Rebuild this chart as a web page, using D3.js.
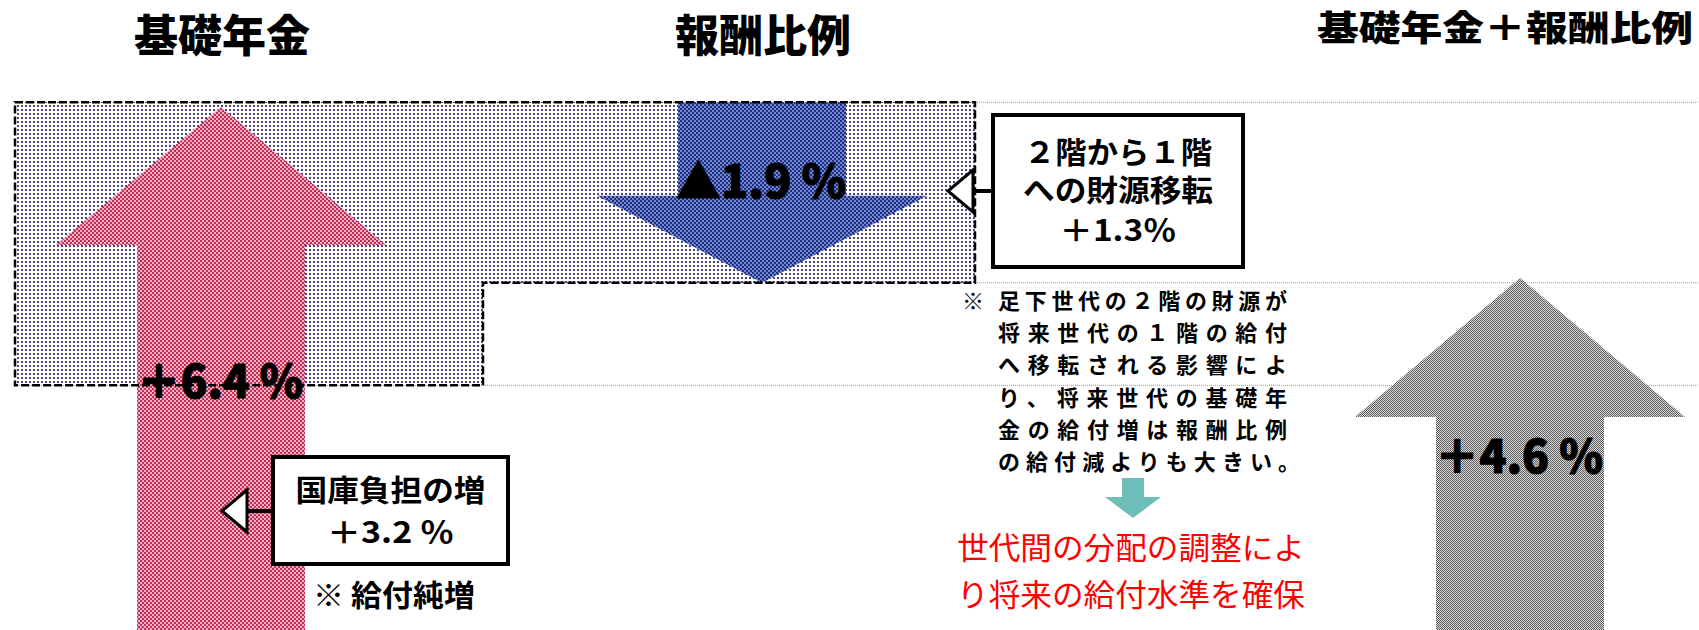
<!DOCTYPE html>
<html lang="ja">
<head>
<meta charset="utf-8">
<script src="https://cdn.jsdelivr.net/npm/d3@7"></script>
<style>
html, body { margin: 0; padding: 0; background: #fff; }
svg { display: block; font-family: "Noto Sans CJK JP", "Noto Sans CJK SC", sans-serif; }
</style>
</head>
<body>
<script>
// ---- data ---------------------------------------------------------------
// Change in benefit level for each part of the pension (%)
const categories   = ["基礎年金", "報酬比例", "基礎年金＋報酬比例"];
const changeValues = [6.4, -1.9, 4.6];
const valueLabels  = ["＋6.4 %", "▲1.9 %", "＋4.6 %"];
// Level (%) each arrow starts from
const startValues  = [0, 6.45, 0];
// Levels (%) bounding the shaded transfer band: top, step, bottom
const bandLevels   = [6.45, 4.55, 3.47];

const subsidyLines  = ["国庫負担の増", "＋3.2 ％"];
const transferLines = ["２階から１階", "への財源移転", "＋1.3％"];
const subsidyNote   = "※ 給付純増";
const noteMark      = "※";
const noteLines = [
  "足下世代の２階の財源が",
  "将来世代の１階の給付",
  "へ移転される影響によ",
  "り、将来世代の基礎年",
  "金の給付増は報酬比例",
  "の給付減よりも大きい。"
];
const conclusionLines = ["世代間の分配の調整によ", "り将来の給付水準を確保"];

// ---- layout -------------------------------------------------------------
const W = 1699, H = 630;
const svg = d3.select("body").append("svg").attr("width", W).attr("height", H);

const y = d3.scaleLinear().domain([0, 6.4]).range([715, 107]);
const x = d3.scaleOrdinal().domain(categories).range([221, 762, 1520]);

const arrowStyle = {
  shaftHalf: 84,
  headHalf: 165,
  headLen: [138, 87, 139]
};

// ---- patterns -----------------------------------------------------------
const defs = svg.append("defs");
function checker(id, cell, dark, light) {
  const p = defs.append("pattern").attr("id", id)
    .attr("patternUnits", "userSpaceOnUse")
    .attr("width", cell * 2).attr("height", cell * 2);
  p.append("rect").attr("width", cell * 2).attr("height", cell * 2).attr("fill", light);
  p.append("rect").attr("width", cell).attr("height", cell).attr("fill", dark);
  p.append("rect").attr("x", cell).attr("y", cell).attr("width", cell).attr("height", cell).attr("fill", dark);
}
checker("pinkCheck", 2, "#c82c58", "#f0b2c2");
checker("blueCheck", 2, "#1e3189", "#7485c8");
checker("grayCheck", 1, "#5e5e5e", "#d8d8d8");
const dots = defs.append("pattern").attr("id", "bandDots")
  .attr("patternUnits", "userSpaceOnUse").attr("width", 4).attr("height", 4);
dots.append("rect").attr("width", 4).attr("height", 4).attr("fill", "#fff");
dots.append("rect").attr("x", 1).attr("y", 1).attr("width", 2).attr("height", 2).attr("fill", "#4b4384");
const arrowFills = ["url(#pinkCheck)", "url(#blueCheck)", "url(#grayCheck)"];

// ---- reference lines ----------------------------------------------------
const bandLeft = 15, bandStepX = 483, bandRight = 975;
svg.append("g").selectAll("line").data(bandLevels).join("line")
  .attr("x1", bandLeft).attr("x2", W)
  .attr("y1", d => y(d)).attr("y2", d => y(d))
  .attr("stroke", "#9a9a9a").attr("stroke-width", 1)
  .attr("stroke-dasharray", "1,1");

// ---- shaded transfer band ----------------------------------------------
const bandPts = [
  [bandLeft, y(bandLevels[0])], [bandRight, y(bandLevels[0])],
  [bandRight, y(bandLevels[1])], [bandStepX, y(bandLevels[1])],
  [bandStepX, y(bandLevels[2])], [bandLeft, y(bandLevels[2])]
];
const bandPath = d3.line()(bandPts) + "Z";
svg.append("path").attr("d", bandPath).attr("fill", "url(#bandDots)")
  .attr("shape-rendering", "crispEdges");

// ---- arrows -------------------------------------------------------------
function arrowPath(cx, yFrom, yTo, shaftHalf, headHalf, headLen) {
  const dir = yFrom > yTo ? 1 : -1;
  const yb = yTo + dir * headLen;
  return d3.line()([
    [cx - shaftHalf, yFrom], [cx - shaftHalf, yb], [cx - headHalf, yb],
    [cx, yTo], [cx + headHalf, yb], [cx + shaftHalf, yb], [cx + shaftHalf, yFrom]
  ]) + "Z";
}
const arrowData = categories.map((c, i) => ({
  c, i, from: startValues[i], to: startValues[i] + changeValues[i]
}));
// draw the falling arrow first so the rising one sits above the band
svg.append("g").selectAll("path")
  .data([arrowData[1], arrowData[0], arrowData[2]]).join("path")
  .attr("d", d => arrowPath(x(d.c), y(d.from), y(d.to),
        arrowStyle.shaftHalf, arrowStyle.headHalf, arrowStyle.headLen[d.i]))
  .attr("fill", d => arrowFills[d.i]);

// dashed outline of the band
svg.append("path").attr("d", bandPath).attr("fill", "none")
  .attr("stroke", "#000").attr("stroke-width", 2.5)
  .attr("stroke-dasharray", "8,3");

// ---- value labels -------------------------------------------------------
const valueLabelY = [398, 198, 473];
const valueLabelLen = [166, 170, 168];
svg.append("g").selectAll("text").data(valueLabels).join("text")
  .attr("x", (d, i) => x(categories[i]) - 1)
  .attr("y", (d, i) => valueLabelY[i])
  .attr("text-anchor", "middle")
  .attr("font-size", 46).attr("font-weight", 900)
  .attr("textLength", (d, i) => valueLabelLen[i])
  .attr("lengthAdjust", "spacingAndGlyphs")
  .attr("fill", "#000")
  .attr("stroke", "#000").attr("stroke-width", 1.2)
  .attr("stroke-linejoin", "round")
  .text(d => d);

// ---- titles -------------------------------------------------------------
const titleX = [222, 763, 1505];
const titleY = [33, 33, 25];
const titleSize = [44, 44, 35];
svg.append("g").selectAll("text").data(categories).join("text")
  .attr("x", (d, i) => titleX[i])
  .attr("y", (d, i) => titleY[i])
  .attr("text-anchor", "middle")
  .attr("dominant-baseline", "central")
  .attr("font-size", (d, i) => titleSize[i])
  .attr("font-weight", 900)
  .each(function (d, i) {
    if (i === 2) d3.select(this).attr("textLength", 376).attr("lengthAdjust", "spacingAndGlyphs");
  })
  .text(d => d);

// ---- callouts -----------------------------------------------------------
function callout(box, tip, lines, lineY, lineLen) {
  const g = svg.append("g");
  const triW = 25, triH = 21;
  g.append("line")
    .attr("x1", tip[0] + triW).attr("x2", box.x).attr("y1", tip[1]).attr("y2", tip[1])
    .attr("stroke", "#000").attr("stroke-width", 4);
  g.append("path")
    .attr("d", d3.line()([[tip[0], tip[1]], [tip[0] + triW, tip[1] - triH], [tip[0] + triW, tip[1] + triH]]) + "Z")
    .attr("fill", "#fff").attr("stroke", "#000").attr("stroke-width", 3)
    .attr("stroke-linejoin", "miter");
  g.append("rect")
    .attr("x", box.x).attr("y", box.y).attr("width", box.w).attr("height", box.h)
    .attr("fill", "#fff").attr("stroke", "#000").attr("stroke-width", 4);
  g.selectAll("text").data(lines).join("text")
    .attr("x", box.x + box.w / 2)
    .attr("y", (d, i) => lineY[i])
    .attr("text-anchor", "middle")
    .attr("dominant-baseline", "central")
    .attr("font-size", 30).attr("font-weight", 700)
    .attr("textLength", (d, i) => lineLen[i])
    .attr("lengthAdjust", "spacingAndGlyphs")
    .text(d => d);
}
callout({ x: 273, y: 457, w: 235, h: 107 }, [222, 511], subsidyLines, [488, 530], [190, 127]);
callout({ x: 993, y: 115, w: 250, h: 152 }, [948, 191], transferLines, [150, 188, 228], [188, 190, 117]);

svg.append("text")
  .attr("x", 394).attr("y", 593)
  .attr("text-anchor", "middle").attr("dominant-baseline", "central")
  .attr("font-size", 30).attr("font-weight", 700)
  .attr("textLength", 162).attr("lengthAdjust", "spacingAndGlyphs")
  .text(subsidyNote);

// ---- explanatory note ---------------------------------------------------
const noteG = svg.append("g").attr("font-size", 22).attr("font-weight", 700);
noteG.append("text")
  .attr("x", 973).attr("y", 299)
  .attr("text-anchor", "middle").attr("dominant-baseline", "central")
  .text(noteMark);
const noteLen = [289, 289, 289, 289, 289, 302];
noteG.selectAll("text.line").data(noteLines).join("text")
  .attr("class", "line")
  .attr("x", 998)
  .attr("y", (d, i) => 299 + i * 32.2)
  .attr("dominant-baseline", "central")
  .attr("textLength", (d, i) => noteLen[i])
  .attr("lengthAdjust", "spacing")
  .text(d => d);

// small down arrow leading to the conclusion
svg.append("path")
  .attr("d", arrowPath(1133, 478, 518, 11, 28, 21))
  .attr("fill", "#6dbdb9");

svg.append("g").selectAll("text").data(conclusionLines).join("text")
  .attr("x", 1131)
  .attr("y", (d, i) => 545 + i * 47)
  .attr("text-anchor", "middle").attr("dominant-baseline", "central")
  .attr("font-size", 31).attr("font-weight", 400)
  .attr("fill", "#ff0000")
  .attr("textLength", 348).attr("lengthAdjust", "spacingAndGlyphs")
  .text(d => d);
</script>
</body>
</html>
